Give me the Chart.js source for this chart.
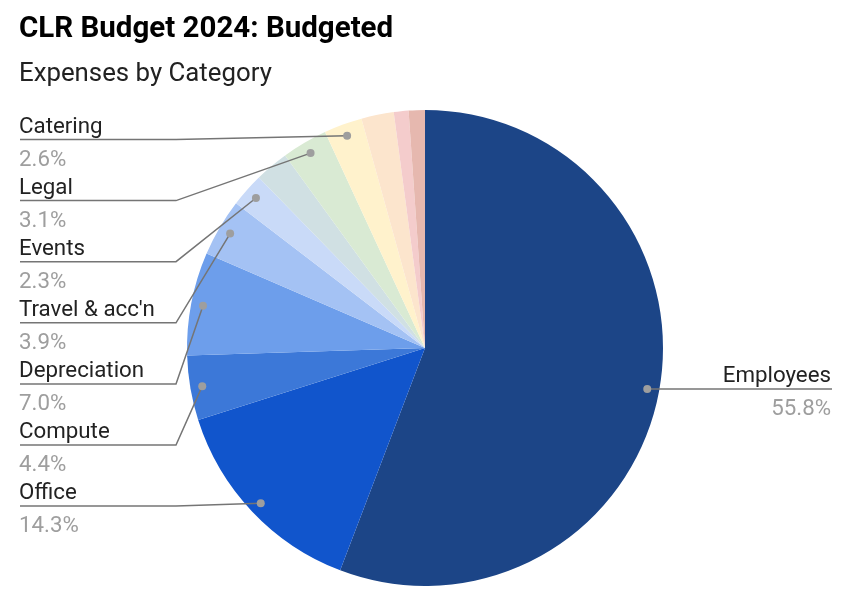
<!DOCTYPE html>
<html>
<head>
<meta charset="utf-8">
<script src="https://cdn.jsdelivr.net/npm/chart.js@4"></script>
<style>
  html, body { margin: 0; padding: 0; background: #ffffff; }
  #wrap { width: 850px; height: 599px; }
</style>
</head>
<body>
<div id="wrap"><canvas id="chart" width="850" height="599"></canvas></div>
<script>
// slices clockwise from 12 o'clock; empty name = slice shown without a label
const categories = ['Employees', 'Office', 'Compute', 'Depreciation', "Travel & acc'n", 'Events', '', 'Legal', 'Catering', '', '', ''];
const budgetShares = [55.8, 14.3, 4.4, 7.0, 3.9, 2.3, 2.3, 3.1, 2.6, 2.2, 1.0, 1.1];
const sliceColors = ['#1c4587', '#1155cc', '#3c78d8', '#6d9eeb', '#a4c2f4', '#c9daf8', '#d0e0e3', '#d9ead3', '#fff2cc', '#fce5cd', '#f4cccc', '#e6b8af'];

const chartTitle = 'CLR Budget 2024: Budgeted';
const chartSubtitle = 'Expenses by Category';

const FONT = 'Roboto, "Noto Sans", sans-serif';

const labelPlugin = {
    id: 'sheetLabels',
    afterDraw(chart) {
        const ctx = chart.ctx;
        const meta = chart.getDatasetMeta(0);
        const values = chart.data.datasets[0].data;
        const total = values.reduce((a, b) => a + b, 0);

        ctx.save();
        ctx.textBaseline = 'alphabetic';
        ctx.fillStyle = '#000000';
        ctx.textAlign = 'left';
        ctx.font = 'bold 29.5px ' + FONT;
        ctx.fillText(chartTitle, 19, 37);
        ctx.fillStyle = '#222222';
        ctx.font = '25.8px ' + FONT;
        ctx.fillText(chartSubtitle, 19, 81);

        const left = [];
        const right = [];
        meta.data.forEach((arc, i) => {
            const name = chart.data.labels[i];
            if (!name) return;
            const mid = (arc.startAngle + arc.endAngle) / 2;
            const r = arc.outerRadius - 12;
            const item = {
                name: name,
                pct: (values[i] / total * 100).toFixed(1) + '%',
                x: arc.x + Math.cos(mid) * r,
                y: arc.y + Math.sin(mid) * r
            };
            if (item.x < arc.x) left.push(item); else right.push(item);
        });

        const firstLine = 139.5;
        const step = 61.1;
        left.sort((a, b) => a.y - b.y);

        const drawItem = (item, lineY, align) => {
            ctx.strokeStyle = '#757575';
            ctx.lineWidth = 1.5;
            ctx.beginPath();
            if (align === 'left') {
                ctx.moveTo(20, lineY);
                ctx.lineTo(176, lineY);
                ctx.lineTo(item.x, item.y);
            } else {
                ctx.moveTo(832, lineY);
                ctx.lineTo(item.x, item.y);
            }
            ctx.stroke();
            ctx.fillStyle = '#9e9e9e';
            ctx.beginPath();
            ctx.arc(item.x, item.y, 4, 0, Math.PI * 2);
            ctx.fill();

            const tx = align === 'left' ? 19 : 831;
            ctx.textAlign = align;
            ctx.font = '22.3px ' + FONT;
            ctx.fillStyle = '#222222';
            ctx.fillText(item.name, tx, lineY - 7);
            ctx.fillStyle = '#9e9e9e';
            ctx.fillText(item.pct, tx, lineY + 26);
        };

        left.forEach((item, k) => drawItem(item, firstLine + step * k, 'left'));
        right.forEach(item => drawItem(item, item.y, 'right'));
        ctx.restore();
    }
};

new Chart(document.getElementById('chart'), {
    type: 'pie',
    data: {
        labels: categories,
        datasets: [{
            data: budgetShares,
            backgroundColor: sliceColors,
            borderWidth: 0
        }]
    },
    options: {
        responsive: false,
        animation: false,
        devicePixelRatio: 1,
        layout: { padding: { top: 110, bottom: 13, left: 20, right: 20 } },
        plugins: {
            legend: { display: false },
            title: { display: false },
            tooltip: { enabled: false }
        }
    },
    plugins: [labelPlugin]
});
</script>
</body>
</html>
